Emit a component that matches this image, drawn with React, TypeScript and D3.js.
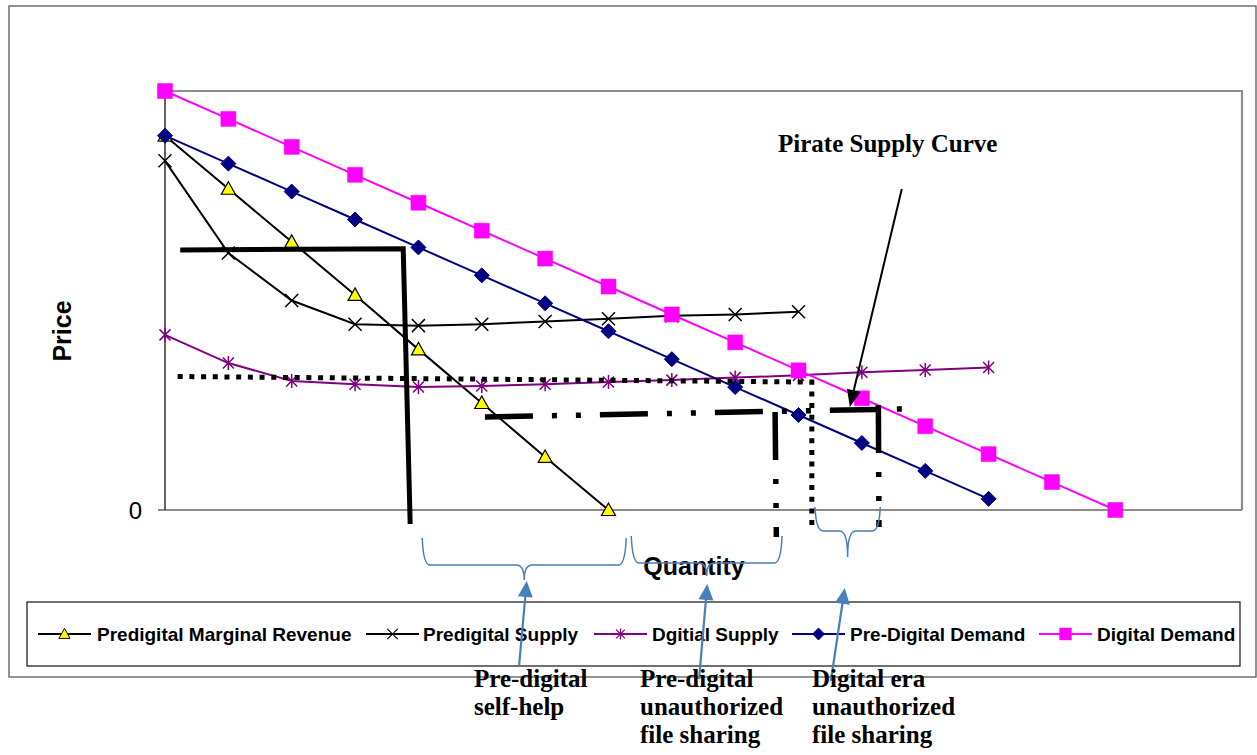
import React from 'react';
import * as d3 from 'd3';

// ---------------- data ----------------
const categories = ['1', '2', '3', '4', '5', '6', '7', '8', '9', '10', '11', '12', '13', '14', '15', '16', '17', '18'];
const yTickLabels = ['0'];

const predigitalMarginalRevenue = [13.4, 11.5, 9.6, 7.7, 5.75, 3.83, 1.9, 0];
const predigitalSupply = [12.5, 9.2, 7.5, 6.65, 6.6, 6.65, 6.75, 6.85, 6.95, 7.0, 7.1];
const digitalSupply = [6.27, 5.26, 4.62, 4.5, 4.4, 4.44, 4.5, 4.58, 4.65, 4.74, 4.82, 4.93, 5.01, 5.1];
const preDigitalDemand = [13.4, 12.4, 11.4, 10.4, 9.4, 8.4, 7.4, 6.4, 5.4, 4.4, 3.4, 2.4, 1.4, 0.4];
const digitalDemand = [15, 14, 13, 12, 11, 10, 9, 8, 7, 6, 5, 4, 3, 2, 1, 0];

const seriesNames = ['Predigital Marginal Revenue', 'Predigital Supply', 'Dgitial Supply', 'Pre-Digital Demand', 'Digital Demand'];

// annotation shapes, in data units: [category index, price]
const selfHelpLine: [number, number][] = [[0.24, 9.31], [3.76, 9.35], [3.87, -0.5]];
const digitalPriceLine: [number, number][] = [[0.2, 4.78], [10.21, 4.58], [10.21, -0.61]];
const dashDotHorizontal: [number, number][] = [[5.05, 3.33], [11.68, 3.62]];
const dashDotVertical1: [number, number][] = [[9.63, 3.51], [9.65, -0.97]];
const dashDotVertical2: [number, number][] = [[11.26, 3.76], [11.27, -0.61]];
const pirateArrow: [number, number][] = [[11.63, 11.49], [10.81, 3.69]];
// braces: [x1, x2, yTop, yMid, yTip]
const braces: number[][] = [
  [4.06, 7.28, -1.0, -1.97, -2.51],
  [7.36, 9.74, -0.93, -1.9, -2.36],
  [10.26, 11.29, 0.11, -0.75, -1.68],
];
const blueArrows: [number, number][][] = [
  [[5.59, -5.55], [5.71, -2.54]],
  [[8.43, -6.05], [8.56, -2.65]],
  [[10.51, -6.12], [10.73, -2.79]],
];
const noteLabels = [
  ['Pre-digital', 'self-help'],
  ['Pre-digital', 'unauthorized', 'file sharing'],
  ['Digital era', 'unauthorized', 'file sharing'],
];
const pirateLabel = 'Pirate Supply Curve';

// ---------------- layout ----------------
const W = 1257;
const H = 755;
const PLOT = { left: 165, right: 1242, top: 91, bottom: 510 };
const SANS = '"Liberation Sans", Arial, Helvetica, sans-serif';
const SERIF = '"Liberation Serif", "Times New Roman", serif';

type MarkerType = 'triangle' | 'x' | 'star' | 'diamond' | 'square';

function Marker({ type, cx, cy, color, fill, k = 1 }: { type: MarkerType; cx: number; cy: number; color: string; fill: string; k?: number }) {
  const t = `translate(${cx},${cy}) scale(${k})`;
  if (type === 'triangle') {
    return <path transform={t} d="M0,-7 L7,5.5 L-7,5.5 Z" fill={fill} stroke="#000" strokeWidth={1.2} />;
  }
  if (type === 'x') {
    return <path transform={t} d="M-6.5,-6.5 L6.5,6.5 M-6.5,6.5 L6.5,-6.5" stroke={color} strokeWidth={1.5} fill="none" />;
  }
  if (type === 'star') {
    return <path transform={t} d="M-5.5,-5.5 L5.5,5.5 M-5.5,5.5 L5.5,-5.5 M0,-7 L0,7" stroke={color} strokeWidth={1.5} fill="none" />;
  }
  if (type === 'diamond') {
    return <path transform={t} d="M0,-7.5 L7.5,0 L0,7.5 L-7.5,0 Z" fill={fill} stroke={color} strokeWidth={1} />;
  }
  return <path transform={t} d="M-7.5,-7.5 L7.5,-7.5 L7.5,7.5 L-7.5,7.5 Z" fill={fill} stroke={color} strokeWidth={0.5} />;
}

function arrowHead(p0: [number, number], p1: [number, number], len: number, hw: number) {
  const dx = p1[0] - p0[0];
  const dy = p1[1] - p0[1];
  const d = Math.hypot(dx, dy);
  const ux = dx / d, uy = dy / d;
  const bx = p1[0] - ux * len, by = p1[1] - uy * len;
  const px = -uy, py = ux;
  return {
    poly: `${p1[0]},${p1[1]} ${bx + px * hw},${by + py * hw} ${bx - px * hw},${by - py * hw}`,
    base: [bx + ux * 2, by + uy * 2] as [number, number],
  };
}

export default function App() {
  const x = d3.scalePoint<string>().domain(categories).range([PLOT.left, PLOT.right]);
  const xi = d3.scaleLinear().domain([0, categories.length - 1]).range([PLOT.left, PLOT.right]);
  const y = d3.scaleLinear().domain([0, 15]).range([PLOT.bottom, PLOT.top]);

  const series: { name: string; values: number[]; color: string; fill: string; marker: MarkerType }[] = [
    { name: seriesNames[0], values: predigitalMarginalRevenue, color: '#000000', fill: '#FFFF00', marker: 'triangle' },
    { name: seriesNames[1], values: predigitalSupply, color: '#000000', fill: 'none', marker: 'x' },
    { name: seriesNames[2], values: digitalSupply, color: '#800080', fill: 'none', marker: 'star' },
    { name: seriesNames[3], values: preDigitalDemand, color: '#000080', fill: '#000080', marker: 'diamond' },
    { name: seriesNames[4], values: digitalDemand, color: '#FF00FF', fill: '#FF00FF', marker: 'square' },
  ];

  const seriesLine = d3
    .line<number>()
    .x((_, i) => x(categories[i]) as number)
    .y((d) => y(d));

  const annLine = d3
    .line<[number, number]>()
    .x((d) => xi(d[0]))
    .y((d) => y(d[1]));

  const toPx = (p: [number, number]): [number, number] => [xi(p[0]), y(p[1])];

  const bracePath = (b: number[]) => {
    const x1 = xi(b[0]), x2 = xi(b[1]), xc = (x1 + x2) / 2;
    const yT = y(b[2]), yM = y(b[3]), yP = y(b[4]);
    const r = 8;
    return `M${x1},${yT} Q${x1 + 1},${yM} ${x1 + r},${yM} L${xc - r},${yM} Q${xc},${yM} ${xc},${yP} Q${xc},${yM} ${xc + r},${yM} L${x2 - r},${yM} Q${x2 - 1},${yM} ${x2},${yT}`;
  };

  const legendItems = [
    { lineX: 38, textX: 97 },
    { lineX: 366, textX: 423 },
    { lineX: 594, textX: 652 },
    { lineX: 792, textX: 850 },
    { lineX: 1039, textX: 1097 },
  ];
  const legendY = 634;

  const pa0 = toPx(pirateArrow[0]);
  const pa1 = toPx(pirateArrow[1]);
  const paHead = arrowHead(pa0, pa1, 17, 7);

  const noteX = [474, 640, 812];
  const noteBaselines = [687, 715, 743];

  return (
    <svg
      width={W}
      height={H}
      viewBox={`0 0 ${W} ${H}`}
      style={{ position: 'fixed', left: 0, top: 0, background: '#fff', display: 'block' }}
    >
      <rect x={0} y={0} width={W} height={H} fill="#fff" />
      {/* outer chart frame */}
      <rect x={9} y={6} width={1247} height={671} fill="none" stroke="#5a5a5a" strokeWidth={1.3} />

      {/* plot area border */}
      <path
        d={`M${PLOT.left},${PLOT.top} L${PLOT.right},${PLOT.top} L${PLOT.right},${PLOT.bottom}`}
        fill="none"
        stroke="#8c8c8c"
        strokeWidth={2.2}
      />
      {/* x axis */}
      <line x1={PLOT.left - 7} x2={PLOT.right} y1={y(0)} y2={y(0)} stroke="#8c8c8c" strokeWidth={2} />
      {/* y axis */}
      <line x1={PLOT.left} x2={PLOT.left} y1={PLOT.top} y2={PLOT.bottom} stroke="#222" strokeWidth={1.4} />
      {yTickLabels.map((t) => (
        <text key={t} x={142} y={y(+t) + 9} textAnchor="end" fontFamily={SANS} fontSize={24} fill="#000">
          {t}
        </text>
      ))}

      {/* series */}
      {series.map((s) => (
        <g key={s.name}>
          <path d={seriesLine(s.values) || ''} fill="none" stroke={s.color} strokeWidth={2} />
          {s.values.map((v, i) => (
            <Marker key={i} type={s.marker} cx={x(categories[i]) as number} cy={y(v)} color={s.color} fill={s.fill} />
          ))}
        </g>
      ))}

      {/* annotations */}
      <path d={annLine(selfHelpLine) || ''} fill="none" stroke="#000" strokeWidth={5} strokeLinejoin="miter" />
      <path d={annLine(digitalPriceLine) || ''} fill="none" stroke="#000" strokeWidth={5} strokeDasharray="5 6.7" />
      <path d={annLine(dashDotHorizontal) || ''} fill="none" stroke="#000" strokeWidth={5.5} strokeDasharray="48 19 5 19 5 19" />
      <path d={annLine(dashDotVertical1) || ''} fill="none" stroke="#000" strokeWidth={5.5} strokeDasharray="48 19 5 19 5 19" />
      <path d={annLine(dashDotVertical2) || ''} fill="none" stroke="#000" strokeWidth={5.5} strokeDasharray="48 19 5 19 5 19" />

      {/* pirate arrow */}
      <line x1={pa0[0]} y1={pa0[1]} x2={paHead.base[0]} y2={paHead.base[1]} stroke="#000" strokeWidth={2} />
      <polygon points={paHead.poly} fill="#000" />
      <text x={778} y={152} fontFamily={SERIF} fontWeight="bold" fontSize={25} fill="#000">
        {pirateLabel}
      </text>

      {/* axis titles */}
      <text transform="translate(71,331) rotate(-90)" textAnchor="middle" fontFamily={SANS} fontWeight="bold" fontSize={25} fill="#000">
        Price
      </text>

      {/* legend */}
      <rect x={27} y={602} width={1213} height={64} fill="#fff" stroke="#111" strokeWidth={1.2} />
      {series.map((s, i) => (
        <g key={s.name}>
          <line x1={legendItems[i].lineX} x2={legendItems[i].lineX + 53} y1={legendY} y2={legendY} stroke={s.color} strokeWidth={2} />
          <Marker type={s.marker} cx={legendItems[i].lineX + 26.5} cy={legendY} color={s.color} fill={s.fill} k={0.8} />
          <text x={legendItems[i].textX} y={legendY + 7} fontFamily={SANS} fontWeight="bold" fontSize={19} fill="#000">
            {s.name}
          </text>
        </g>
      ))}

      <text x={694} y={575} textAnchor="middle" fontFamily={SANS} fontWeight="bold" fontSize={25} fill="#000">
        Quantity
      </text>

      {/* braces */}
      {braces.map((b, i) => (
        <path key={i} d={bracePath(b)} fill="none" stroke="#4A7EBB" strokeWidth={1.5} />
      ))}

      {/* blue arrows */}
      {blueArrows.map((a, i) => {
        const p0 = toPx(a[0]);
        const p1 = toPx(a[1]);
        const h = arrowHead(p0, p1, 16, 7.5);
        return (
          <g key={i}>
            <line x1={p0[0]} y1={p0[1]} x2={h.base[0]} y2={h.base[1]} stroke="#4A7EBB" strokeWidth={2.2} />
            <polygon points={h.poly} fill="#4A7EBB" />
          </g>
        );
      })}

      {/* note labels */}
      {noteLabels.map((lines, i) => (
        <text key={i} fontFamily={SERIF} fontWeight="bold" fontSize={25} fill="#000">
          {lines.map((l, j) => (
            <tspan key={j} x={noteX[i]} y={noteBaselines[j]}>
              {l}
            </tspan>
          ))}
        </text>
      ))}
    </svg>
  );
}
